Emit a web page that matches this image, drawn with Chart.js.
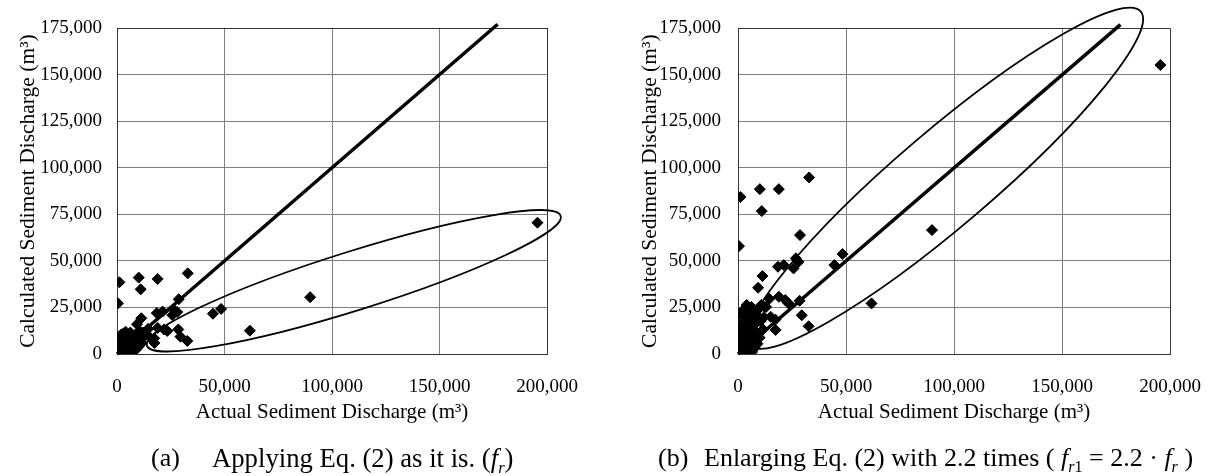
<!DOCTYPE html>
<html>
<head>
<meta charset="utf-8">
<script src="https://cdn.jsdelivr.net/npm/chart.js@4.4.1/dist/chart.umd.min.js"></script>
<style>
  html, body { margin: 0; padding: 0; background: #fff; }
  #wrap { position: relative; width: 1223px; height: 476px; overflow: hidden; font-family: "Liberation Serif", "Times New Roman", serif; color: #000; }
  canvas { position: absolute; top: 0; }
  #chartA { left: 0; }
  #chartB { left: 600px; }
  .cap { position: absolute; top: 445px; font-size: 26px; line-height: 1; white-space: nowrap; }
  .cap sub { font-size: 0.62em; line-height: 0; vertical-align: -0.35em; }
</style>
</head>
<body>
<div id="wrap">
  <canvas id="chartA" width="600" height="476"></canvas>
  <canvas id="chartB" width="623" height="476"></canvas>
  <div class="cap" style="left:151px">(a)</div>
  <div class="cap" style="left:212px;font-size:26.7px">Applying Eq. (2) as it is. (<i>f<sub>r</sub></i>)</div>
  <div class="cap" style="left:658px">(b)</div>
  <div class="cap" style="left:704px">Enlarging Eq. (2) with 2.2 times ( <i>f</i><sub><i>r</i>1</sub> = 2.2 &middot; <i>f</i><sub><i>r</i></sub> )</div>
</div>
<script>
// actual sediment discharge (m3), shared by both panels
const actual = [
  195500, 89800, 61800, 48400, 44600, 32900, 32700, 29500, 28500, 28700,
  26800, 28000, 25700, 18900, 11000, 10100, 1100, 450, 18500, 21200,
  11300, 9300, 18900, 21900, 23400, 17400, 15100, 12100, 17300,
  500, 800, 1000, 1200, 1500, 1800, 2000, 2200, 2500, 2800,
  3000, 3200, 3500, 3800, 4000, 4200, 4500, 4800, 5000, 5300,
  5600, 5900, 6200, 6500, 6800, 7100, 7400, 7700, 8000, 8300,
  8600, 9000, 9600, 10000, 10400, 10800, 11600, 12000, 13000, 14500
];
// (a) calculated with Eq. (2) as it is
const calcApplied = [
  70500, 30500, 12500, 24200, 21600, 43300, 7000, 9300, 13200, 29400,
  23300, 22500, 20900, 40300, 34700, 41000, 38500, 27200, 22000, 22800,
  19200, 16000, 14000, 13200, 12400, 5900, 9100, 11500, 8400,
  1500, 4000, 7000, 9500, 2500, 5500, 10500, 800, 3500, 7500,
  11000, 1800, 5000, 9000, 12000, 600, 3000, 6500, 10000, 2000,
  4500, 8000, 11500, 500, 3500, 6000, 9500, 1500, 5000, 7500,
  10500, 2500, 9000, 4000, 8000, 12000, 6000, 9000, 11500, 13500
];
// (b) calculated with the enlarged factor
const calcEnlarged = [
  155300, 66600, 27200, 53700, 47800, 94900, 14900, 20800, 28600, 63900,
  51400, 49500, 46000, 88600, 76800, 88600, 84400, 58000, 46900, 47800,
  41900, 35600, 30800, 29000, 27200, 12900, 20000, 25400, 18500,
  3300, 8800, 15400, 20900, 5500, 12100, 23100, 1800, 7700, 16500,
  24200, 4000, 11000, 19800, 26400, 1300, 6600, 14300, 22000, 4400,
  9900, 17600, 25300, 1100, 7700, 13200, 20900, 3300, 11000, 16500,
  23100, 5500, 19800, 8800, 17600, 26400, 13200, 19800, 25300, 29700
];
const xTicks = [0, 50000, 100000, 150000, 200000];
const yTicks = [0, 25000, 50000, 75000, 100000, 125000, 150000, 175000];
const lineEnds = [0, 177000];
// ellipse: two tips of the long axis and one point on the side
const ellipseA = [[13900, 4500], [206300, 74100], [106400, 54500]];
const ellipseB = [[5400, 4800], [186400, 184100], [81100, 113300]];

Chart.defaults.font.family = '"Liberation Serif", "Times New Roman", serif';
Chart.defaults.color = '#000';

const ellipsePlugin = {
  id: 'ellipse',
  afterDatasetsDraw(chart, args, opts) {
    const { ctx, scales: { x, y } } = chart;
    const p = opts.pts.map(([a, b]) => [x.getPixelForValue(a), y.getPixelForValue(b)]);
    const cx = (p[0][0] + p[1][0]) / 2, cy = (p[0][1] + p[1][1]) / 2;
    const dx = p[1][0] - p[0][0], dy = p[1][1] - p[0][1];
    const rx = Math.hypot(dx, dy) / 2;
    const ry = Math.abs((p[2][0] - cx) * dy - (p[2][1] - cy) * dx) / (2 * rx);
    ctx.save();
    ctx.beginPath();
    ctx.ellipse(cx, cy, rx, ry, Math.atan2(dy, dx), 0, Math.PI * 2);
    ctx.lineWidth = 1.8;
    ctx.strokeStyle = '#000';
    ctx.stroke();
    ctx.restore();
  }
};

const edgeColor = (max) => (c) => (c.tick && c.tick.value === max ? '#333' : '#7d7d7d');

function makeChart(id, calc, ellipse, yWidth, rightPad, yTitlePad, yTickPad) {
  const pts = actual.map((v, i) => ({ x: v, y: calc[i] }));
  return new Chart(document.getElementById(id), {
    type: 'scatter',
    data: {
      datasets: [
        {
          data: pts,
          pointStyle: 'rectRot',
          pointRadius: 5.5,
          backgroundColor: '#000',
          borderColor: '#000',
          borderWidth: 1
        },
        {
          data: lineEnds.map(v => ({ x: v, y: v })),
          showLine: true,
          borderColor: '#000',
          borderWidth: 3.5,
          pointRadius: 0,
          clip: false
        }
      ]
    },
    options: {
      responsive: false,
      animation: false,
      devicePixelRatio: 1,
      layout: { autoPadding: false, padding: { left: 0, right: rightPad, top: 28, bottom: 0 } },
      plugins: {
        legend: { display: false },
        tooltip: { enabled: false },
        ellipse: { pts: ellipse }
      },
      scales: {
        x: {
          type: 'linear',
          min: 0,
          max: 200000,
          afterBuildTicks: s => { s.ticks = xTicks.map(v => ({ value: v })); },
          afterFit: s => { s.height = 476 - 354; },
          grid: { color: edgeColor(200000), lineWidth: 1, drawTicks: false },
          border: { color: '#333', width: 1 },
          ticks: { padding: 22, font: { size: 19 }, maxRotation: 0, callback: v => v.toLocaleString('en-US') },
          title: { display: true, text: 'Actual Sediment Discharge (m³)', font: { size: 21 }, padding: { top: 0, bottom: 51 } }
        },
        y: {
          type: 'linear',
          min: 0,
          max: 175000,
          afterBuildTicks: s => { s.ticks = yTicks.map(v => ({ value: v })); },
          afterFit: s => { s.width = yWidth; },
          grid: { color: edgeColor(175000), lineWidth: 1, drawTicks: false },
          border: { color: '#333', width: 1 },
          ticks: { padding: yTickPad, font: { size: 19 }, callback: v => v.toLocaleString('en-US') },
          title: { display: true, text: 'Calculated Sediment Discharge (m³)', font: { size: 21.5 }, padding: { top: yTitlePad, bottom: 0 } }
        }
      }
    },
    plugins: [ellipsePlugin]
  });
}

makeChart('chartA', calcApplied, ellipseA, 117, 41, 15, 15);
makeChart('chartB', calcEnlarged, ellipseB, 138, 44, 37, 17);
</script>
</body>
</html>
